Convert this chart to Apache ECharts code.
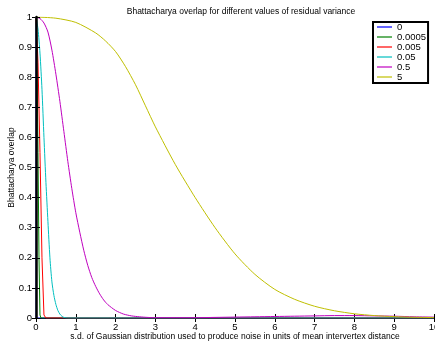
<!DOCTYPE html>
<html><head><meta charset="utf-8">
<script src="https://cdn.jsdelivr.net/npm/echarts@6/dist/echarts.min.js"></script>
<style>html,body{margin:0;padding:0;background:#fff}#c{width:435px;height:345px}</style>
</head><body><div id="c"></div>
<script>
// Legend names (residual variance)
const seriesNames = ['0', '0.0005', '0.005', '0.05', '0.5', '5'];
const seriesColors = ['#0000ff', '#008000', '#ff0000', '#00bfbf', '#bf00bf', '#bfbf00'];

// series "0"
const x0 = [0, 0.002, 10];
const y0 = [1, 0, 0];
// series "0.0005"
const x1 = [0, 0.025, 0.05, 0.075, 0.1, 0.125, 10];
const y1 = [1, 0.85, 0.55, 0.2, 0.01, 0, 0];
// series "0.005"
const x2 = [0, 0.05, 0.1, 0.15, 0.2, 0.25, 10];
const y2 = [1, 0.85, 0.55, 0.2, 0.01, 0, 0];
// series "0.05"
const x3 = [0, 0.05, 0.1, 0.15, 0.2, 0.25, 0.3, 0.35, 0.4, 0.45, 0.5, 0.55, 0.6, 0.65, 0.7, 0.8, 10];
const y3 = [1, 0.96, 0.88, 0.76, 0.6, 0.45, 0.32, 0.2, 0.12, 0.075, 0.045, 0.025, 0.013, 0.006, 0.002, 0, 0];
// series "0.5"
const x4 = [0, 0.1, 0.2, 0.3, 0.4, 0.5, 0.6, 0.7, 0.8, 0.9, 1.0, 1.1, 1.2, 1.3, 1.4, 1.5, 1.6, 1.7, 1.8, 2.0, 2.2, 2.4, 2.6, 2.8, 3.0, 3.5, 4.0, 4.5, 5.0, 5.5, 6.0, 6.5, 7.0, 7.5, 8.0, 8.5, 9.0, 9.5, 10];
const y4 = [1, 0.995, 0.98, 0.95, 0.89, 0.81, 0.72, 0.62, 0.52, 0.43, 0.35, 0.285, 0.225, 0.175, 0.135, 0.105, 0.08, 0.06, 0.045, 0.025, 0.013, 0.007, 0.004, 0.002, 0.001, 0.001, 0.001, 0.002, 0.003, 0.004, 0.005, 0.006, 0.007, 0.008, 0.008, 0.007, 0.006, 0.004, 0.003];
// series "5"
const x5 = [0, 0.5, 1, 1.5, 1.75, 2, 2.25, 2.5, 2.75, 3, 3.5, 4, 4.5, 5, 5.5, 6, 6.5, 7, 7.5, 8, 8.5, 9, 9.5, 10];
const y5 = [1, 0.996, 0.982, 0.947, 0.92, 0.885, 0.835, 0.775, 0.705, 0.635, 0.51, 0.40, 0.30, 0.213, 0.145, 0.095, 0.062, 0.039, 0.024, 0.014, 0.008, 0.0045, 0.0025, 0.0015];

const xTicks = [0,1,2,3,4,5,6,7,8,9,10];

const allX = [x0, x1, x2, x3, x4, x5];
const allY = [y0, y1, y2, y3, y4, y5];
const smoothFlags = [false, false, false, true, true, true];

const FONT = 'Liberation Sans, Arial, Helvetica, sans-serif';
const chart = echarts.init(document.getElementById('c'), null, {renderer: 'canvas'});

const series = seriesNames.map((n, i) => ({
  name: n,
  type: 'line',
  data: allX[i].map((x, j) => [x, allY[i][j]]),
  symbol: 'none',
  smooth: smoothFlags[i] ? 0.25 : false,
  lineStyle: {color: seriesColors[i], width: 1},
  itemStyle: {color: seriesColors[i]},
  z: 2 + i,
  animation: false
}));

chart.setOption({
  animation: false,
  backgroundColor: '#fff',
  title: {
    text: 'Bhattacharya overlap for different values of residual variance',
    left: 236, top: 2, textAlign: 'center',
    textStyle: {fontFamily: FONT, fontSize: 8.5, fontWeight: 'normal', color: '#000'}
  },
  grid: {left: 36, right: 1, top: 17, bottom: 27, containLabel: false, outerBoundsMode: 'none'},
  legend: {
    orient: 'vertical', left: 373, top: 22,
    padding: [0, 2, 1, 4], itemGap: 0, itemWidth: 15, itemHeight: 1.2,
    icon: 'rect',
    backgroundColor: '#fff', borderColor: '#000', borderWidth: 2, borderRadius: 0,
    textStyle: {fontFamily: FONT, fontSize: 9.5, color: '#000', lineHeight: 10, height: 10},
    data: seriesNames,
    z: 20
  },
  xAxis: [{
    type: 'value', min: 0, max: 10, interval: 1,
    name: 's.d. of Gaussian distribution used to produce noise in units of mean intervertex distance',
    nameLocation: 'middle', nameGap: 14, nameMoveOverlap: false,
    nameTextStyle: {fontFamily: FONT, fontSize: 8.5, color: '#000'},
    axisLine: {lineStyle: {color: '#000', width: 1}},
    axisTick: {inside: true, length: 4, lineStyle: {color: '#000'}},
    axisLabel: {fontFamily: FONT, fontSize: 9.5, color: '#000', margin: 4,
      formatter: v => xTicks.indexOf(v) >= 0 ? String(v) : ''},
    splitLine: {show: false}
  }, {
    type: 'value', min: 0, max: 10, interval: 1, position: 'top',
    axisLine: {lineStyle: {color: '#000', width: 1}},
    axisTick: {inside: true, length: 4, lineStyle: {color: '#000'}},
    axisLabel: {show: false}, splitLine: {show: false}
  }],
  yAxis: [{
    type: 'value', min: 0, max: 1, interval: 0.1,
    name: 'Bhattacharya overlap', nameLocation: 'middle', nameGap: 20, nameMoveOverlap: false,
    nameTextStyle: {fontFamily: FONT, fontSize: 8.5, color: '#000'},
    axisLine: {show: true, lineStyle: {color: '#000', width: 2.5}},
    axisTick: {show: true, inside: true, length: 4, lineStyle: {color: '#000'}},
    axisLabel: {fontFamily: FONT, fontSize: 9.5, color: '#000', margin: 4},
    splitLine: {show: false},
    z: 10
  }, {
    type: 'value', min: 0, max: 1, interval: 0.1, position: 'right',
    axisLine: {show: true, lineStyle: {color: '#000', width: 1}},
    axisTick: {show: true, inside: true, length: 4, lineStyle: {color: '#000'}},
    axisLabel: {show: false}, splitLine: {show: false}
  }],
  series: series
});
</script>
</body></html>
